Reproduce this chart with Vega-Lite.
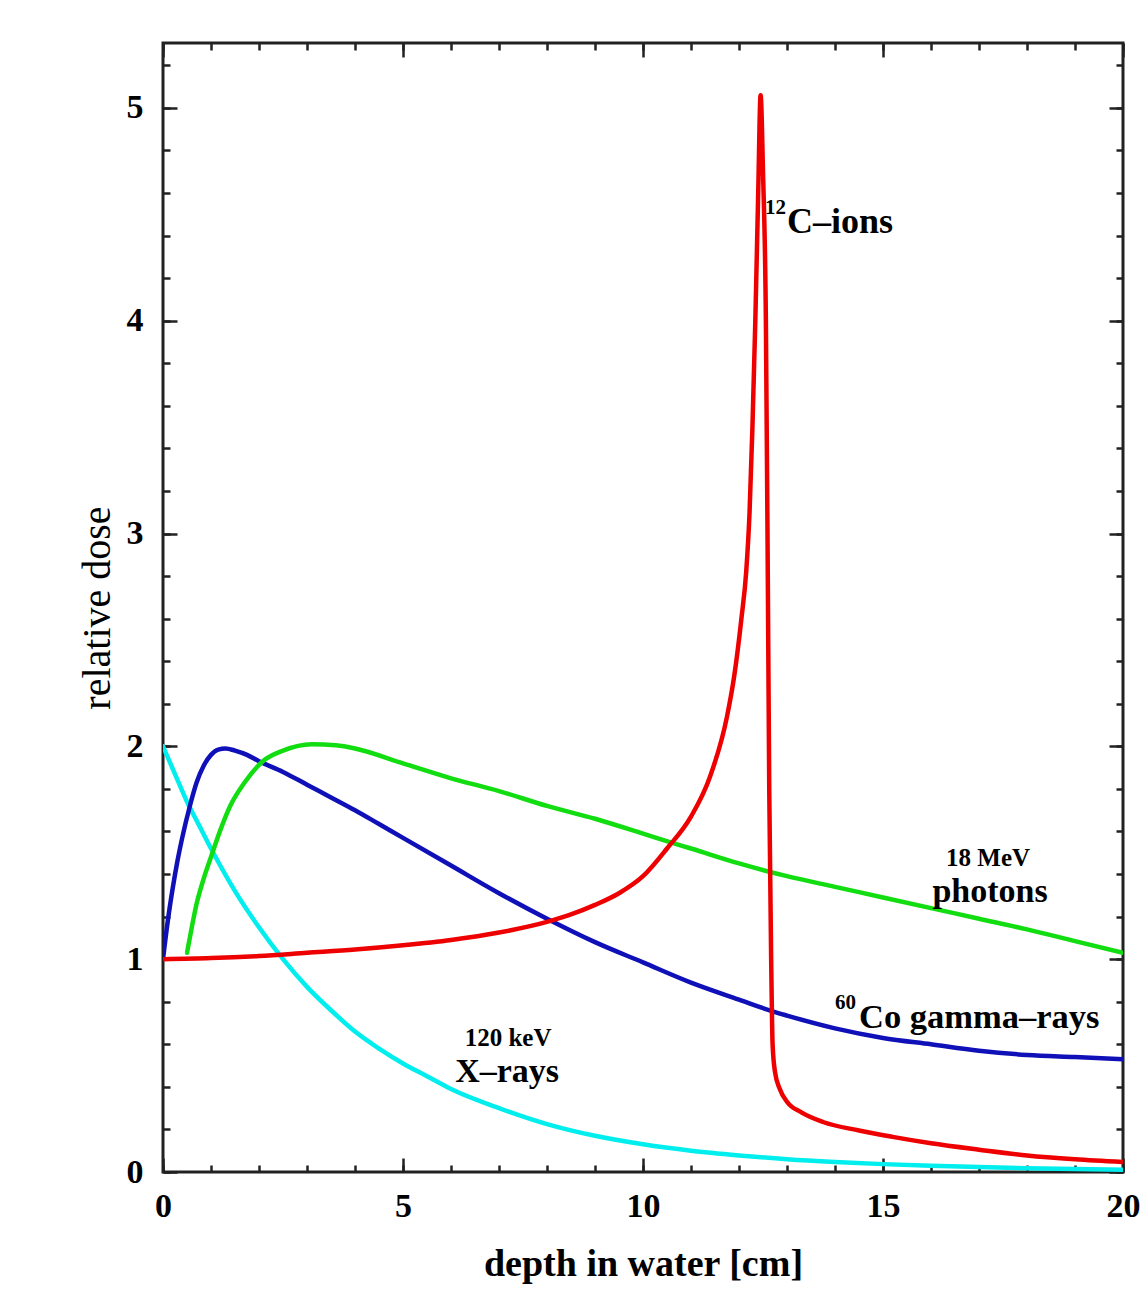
{
  "$schema": "https://vega.github.io/schema/vega-lite/v6.json",
  "width": 960,
  "height": 1129,
  "autosize": {"type": "none"},
  "padding": {"left": 163, "top": 43, "right": 20, "bottom": 135},
  "background": "white",
  "config": {
    "view": {"stroke": "#222", "strokeWidth": 3},
    "axis": {
      "domain": false, "grid": false,
      "labelFont": "Liberation Serif", "labelFontWeight": "bold", "labelFontSize": 34, "labelColor": "black",
      "labelFlush": false, "labelOverlap": false,
      "tickColor": "#222", "tickWidth": 2.5,
      "titleFont": "Liberation Serif", "titleColor": "black"
    }
  },
  "datasets": {
    "curves": [
      {"series": "cyan", "x": 0, "y": 2.0}, {"series": "cyan", "x": 0.25, "y": 1.87}, {"series": "cyan", "x": 0.5, "y": 1.74}, {"series": "cyan", "x": 0.75, "y": 1.63}, {"series": "cyan", "x": 1, "y": 1.52}, {"series": "cyan", "x": 1.5, "y": 1.32}, {"series": "cyan", "x": 2, "y": 1.15}, {"series": "cyan", "x": 2.5, "y": 1.0}, {"series": "cyan", "x": 3, "y": 0.87}, {"series": "cyan", "x": 3.5, "y": 0.76}, {"series": "cyan", "x": 4, "y": 0.66}, {"series": "cyan", "x": 4.5, "y": 0.58}, {"series": "cyan", "x": 5, "y": 0.51}, {"series": "cyan", "x": 5.5, "y": 0.45}, {"series": "cyan", "x": 6, "y": 0.39}, {"series": "cyan", "x": 7, "y": 0.30}, {"series": "cyan", "x": 8, "y": 0.225}, {"series": "cyan", "x": 9, "y": 0.17}, {"series": "cyan", "x": 10, "y": 0.13}, {"series": "cyan", "x": 11, "y": 0.10}, {"series": "cyan", "x": 12, "y": 0.078}, {"series": "cyan", "x": 13, "y": 0.06}, {"series": "cyan", "x": 14, "y": 0.047}, {"series": "cyan", "x": 15, "y": 0.037}, {"series": "cyan", "x": 16, "y": 0.029}, {"series": "cyan", "x": 17, "y": 0.023}, {"series": "cyan", "x": 18, "y": 0.018}, {"series": "cyan", "x": 19, "y": 0.014}, {"series": "cyan", "x": 20, "y": 0.011},
      {"series": "blue", "x": 0, "y": 1.0}, {"series": "blue", "x": 0.1, "y": 1.18}, {"series": "blue", "x": 0.2, "y": 1.33}, {"series": "blue", "x": 0.3, "y": 1.46}, {"series": "blue", "x": 0.4, "y": 1.57}, {"series": "blue", "x": 0.56, "y": 1.72}, {"series": "blue", "x": 0.7, "y": 1.83}, {"series": "blue", "x": 0.85, "y": 1.91}, {"series": "blue", "x": 1.0, "y": 1.96}, {"series": "blue", "x": 1.15, "y": 1.985}, {"series": "blue", "x": 1.3, "y": 1.99}, {"series": "blue", "x": 1.5, "y": 1.98}, {"series": "blue", "x": 1.75, "y": 1.96}, {"series": "blue", "x": 2, "y": 1.93}, {"series": "blue", "x": 2.5, "y": 1.88}, {"series": "blue", "x": 3, "y": 1.82}, {"series": "blue", "x": 3.5, "y": 1.76}, {"series": "blue", "x": 4, "y": 1.70}, {"series": "blue", "x": 4.5, "y": 1.635}, {"series": "blue", "x": 5, "y": 1.57}, {"series": "blue", "x": 6, "y": 1.44}, {"series": "blue", "x": 7, "y": 1.31}, {"series": "blue", "x": 8, "y": 1.19}, {"series": "blue", "x": 9, "y": 1.08}, {"series": "blue", "x": 10, "y": 0.985}, {"series": "blue", "x": 11, "y": 0.89}, {"series": "blue", "x": 12, "y": 0.81}, {"series": "blue", "x": 12.7, "y": 0.755}, {"series": "blue", "x": 13, "y": 0.735}, {"series": "blue", "x": 14, "y": 0.675}, {"series": "blue", "x": 15, "y": 0.63}, {"series": "blue", "x": 16, "y": 0.60}, {"series": "blue", "x": 17, "y": 0.57}, {"series": "blue", "x": 18, "y": 0.55}, {"series": "blue", "x": 19, "y": 0.54}, {"series": "blue", "x": 20, "y": 0.53},
      {"series": "green", "x": 0.5, "y": 1.03}, {"series": "green", "x": 0.6, "y": 1.15}, {"series": "green", "x": 0.7, "y": 1.26}, {"series": "green", "x": 0.85, "y": 1.38}, {"series": "green", "x": 1.0, "y": 1.48}, {"series": "green", "x": 1.2, "y": 1.61}, {"series": "green", "x": 1.4, "y": 1.72}, {"series": "green", "x": 1.7, "y": 1.83}, {"series": "green", "x": 2.08, "y": 1.93}, {"series": "green", "x": 2.5, "y": 1.98}, {"series": "green", "x": 3.1, "y": 2.01}, {"series": "green", "x": 3.6, "y": 2.005}, {"series": "green", "x": 4, "y": 1.99}, {"series": "green", "x": 5, "y": 1.92}, {"series": "green", "x": 6, "y": 1.85}, {"series": "green", "x": 7, "y": 1.79}, {"series": "green", "x": 8, "y": 1.72}, {"series": "green", "x": 9, "y": 1.66}, {"series": "green", "x": 10, "y": 1.59}, {"series": "green", "x": 10.56, "y": 1.55}, {"series": "green", "x": 11, "y": 1.52}, {"series": "green", "x": 12, "y": 1.45}, {"series": "green", "x": 13, "y": 1.39}, {"series": "green", "x": 14, "y": 1.34}, {"series": "green", "x": 15, "y": 1.29}, {"series": "green", "x": 16, "y": 1.24}, {"series": "green", "x": 17, "y": 1.19}, {"series": "green", "x": 18, "y": 1.14}, {"series": "green", "x": 19, "y": 1.085}, {"series": "green", "x": 20, "y": 1.03},
      {"series": "red", "x": 0, "y": 1.0}, {"series": "red", "x": 1, "y": 1.005}, {"series": "red", "x": 2, "y": 1.015}, {"series": "red", "x": 3, "y": 1.03}, {"series": "red", "x": 4, "y": 1.045}, {"series": "red", "x": 5, "y": 1.065}, {"series": "red", "x": 6, "y": 1.09}, {"series": "red", "x": 7, "y": 1.125}, {"series": "red", "x": 8, "y": 1.175}, {"series": "red", "x": 8.5, "y": 1.21}, {"series": "red", "x": 9, "y": 1.255}, {"series": "red", "x": 9.5, "y": 1.31}, {"series": "red", "x": 10, "y": 1.39}, {"series": "red", "x": 10.5, "y": 1.52}, {"series": "red", "x": 11, "y": 1.67}, {"series": "red", "x": 11.4, "y": 1.86}, {"series": "red", "x": 11.75, "y": 2.14}, {"series": "red", "x": 11.9, "y": 2.33}, {"series": "red", "x": 12.05, "y": 2.6}, {"series": "red", "x": 12.15, "y": 2.82}, {"series": "red", "x": 12.22, "y": 3.1}, {"series": "red", "x": 12.28, "y": 3.5}, {"series": "red", "x": 12.34, "y": 4.0}, {"series": "red", "x": 12.4, "y": 4.6}, {"series": "red", "x": 12.45, "y": 5.06}, {"series": "red", "x": 12.5, "y": 4.7}, {"series": "red", "x": 12.56, "y": 4.0}, {"series": "red", "x": 12.6, "y": 2.8}, {"series": "red", "x": 12.63, "y": 1.8}, {"series": "red", "x": 12.67, "y": 1.0}, {"series": "red", "x": 12.7, "y": 0.6}, {"series": "red", "x": 12.75, "y": 0.47}, {"series": "red", "x": 12.85, "y": 0.39}, {"series": "red", "x": 13, "y": 0.33}, {"series": "red", "x": 13.3, "y": 0.28}, {"series": "red", "x": 13.75, "y": 0.235}, {"series": "red", "x": 14.5, "y": 0.195}, {"series": "red", "x": 15.2, "y": 0.165}, {"series": "red", "x": 16, "y": 0.135}, {"series": "red", "x": 17, "y": 0.105}, {"series": "red", "x": 18, "y": 0.078}, {"series": "red", "x": 19, "y": 0.06}, {"series": "red", "x": 20, "y": 0.047}
    ]
  },
  "data": {"name": "curves"},
  "layer": [
    {
      "mark": {"type": "line", "strokeWidth": 4.5, "strokeJoin": "round", "strokeCap": "round", "interpolate": "monotone", "clip": true},
      "encoding": {
        "x": {"field": "x", "type": "quantitative", "scale": {"domain": [0, 20], "nice": false, "zero": false},
          "axis": {"orient": "bottom", "values": [0, 5, 10, 15, 20], "tickSize": -14, "labelPadding": 31, "format": "d",
            "title": "depth in water [cm]", "titleFontSize": 38, "titleFontWeight": "bold", "titlePadding": 22}},
        "y": {"field": "y", "type": "quantitative", "scale": {"domain": [0, 5.305], "nice": false, "zero": false},
          "axis": {"orient": "left", "values": [0, 1, 2, 3, 4, 5], "tickSize": -14, "labelPadding": 34, "format": "d",
            "title": "relative dose", "titleFontSize": 40, "titleFontWeight": "normal", "titlePadding": 9}},
        "color": {"field": "series", "type": "nominal", "legend": null,
          "scale": {"domain": ["cyan", "blue", "green", "red"], "range": ["#00eeee", "#1010b8", "#11dd11", "#ee0000"]}}
      }
    },
    {
      "mark": {"type": "point", "opacity": 0},
      "encoding": {
        "x": {"field": "x", "type": "quantitative", "axis": {"orient": "bottom", "values": [0,1,2,3,4,5,6,7,8,9,10,11,12,13,14,15,16,17,18,19,20], "tickSize": -7, "labels": false, "title": null}},
        "y": {"field": "y", "type": "quantitative", "axis": {"orient": "left", "values": [0,0.2,0.4,0.6,0.8,1,1.2,1.4,1.6,1.8,2,2.2,2.4,2.6,2.8,3,3.2,3.4,3.6,3.8,4,4.2,4.4,4.6,4.8,5,5.2], "tickSize": -7, "labels": false, "title": null}}
      }
    },
    {
      "mark": {"type": "point", "opacity": 0},
      "encoding": {
        "x": {"field": "x", "type": "quantitative", "axis": {"orient": "top", "values": [0, 5, 10, 15, 20], "tickSize": -14, "labels": false, "title": null}},
        "y": {"field": "y", "type": "quantitative", "axis": {"orient": "right", "values": [0, 1, 2, 3, 4, 5], "tickSize": -14, "labels": false, "title": null}}
      }
    },
    {
      "mark": {"type": "point", "opacity": 0},
      "encoding": {
        "x": {"field": "x", "type": "quantitative", "axis": {"orient": "top", "values": [0,1,2,3,4,5,6,7,8,9,10,11,12,13,14,15,16,17,18,19,20], "tickSize": -7, "labels": false, "title": null}},
        "y": {"field": "y", "type": "quantitative", "axis": {"orient": "right", "values": [0,0.2,0.4,0.6,0.8,1,1.2,1.4,1.6,1.8,2,2.2,2.4,2.6,2.8,3,3.2,3.4,3.6,3.8,4,4.2,4.4,4.6,4.8,5,5.2], "tickSize": -7, "labels": false, "title": null}}
      }
    },
    {
      "data": {"values": [
        {"x": 13.0, "y": 4.41, "label": "C–ions"}
      ]},
      "mark": {"type": "text", "font": "Liberation Serif", "fontWeight": "bold", "fontSize": 36, "align": "left", "baseline": "alphabetic", "color": "black"},
      "encoding": {
        "x": {"field": "x", "type": "quantitative", "axis": null},
        "y": {"field": "y", "type": "quantitative", "axis": null},
        "text": {"field": "label"}
      }
    },
    {
      "data": {"values": [
        {"x": 14.5, "y": 0.677, "label": "Co gamma–rays"}
      ]},
      "mark": {"type": "text", "font": "Liberation Serif", "fontWeight": "bold", "fontSize": 34.5, "align": "left", "baseline": "alphabetic", "color": "black"},
      "encoding": {
        "x": {"field": "x", "type": "quantitative", "axis": null},
        "y": {"field": "y", "type": "quantitative", "axis": null},
        "text": {"field": "label"}
      }
    },
    {
      "data": {"values": [
        {"x": 12.54, "y": 4.50, "label": "12"},
        {"x": 14.0, "y": 0.767, "label": "60"}
      ]},
      "mark": {"type": "text", "font": "Liberation Serif", "fontWeight": "bold", "fontSize": 21, "align": "left", "baseline": "alphabetic", "color": "black"},
      "encoding": {
        "x": {"field": "x", "type": "quantitative", "axis": null},
        "y": {"field": "y", "type": "quantitative", "axis": null},
        "text": {"field": "label"}
      }
    },
    {
      "data": {"values": [
        {"x": 17.23, "y": 1.269, "label": "photons"},
        {"x": 7.17, "y": 0.423, "label": "X–rays"}
      ]},
      "mark": {"type": "text", "font": "Liberation Serif", "fontWeight": "bold", "fontSize": 34, "align": "center", "baseline": "alphabetic", "color": "black"},
      "encoding": {
        "x": {"field": "x", "type": "quantitative", "axis": null},
        "y": {"field": "y", "type": "quantitative", "axis": null},
        "text": {"field": "label"}
      }
    },
    {
      "data": {"values": [
        {"x": 17.19, "y": 1.44, "label": "18 MeV"},
        {"x": 7.19, "y": 0.594, "label": "120 keV"}
      ]},
      "mark": {"type": "text", "font": "Liberation Serif", "fontWeight": "bold", "fontSize": 25, "align": "center", "baseline": "alphabetic", "color": "black"},
      "encoding": {
        "x": {"field": "x", "type": "quantitative", "axis": null},
        "y": {"field": "y", "type": "quantitative", "axis": null},
        "text": {"field": "label"}
      }
    }
  ],
  "resolve": {"axis": {"x": "independent", "y": "independent"}}
}
